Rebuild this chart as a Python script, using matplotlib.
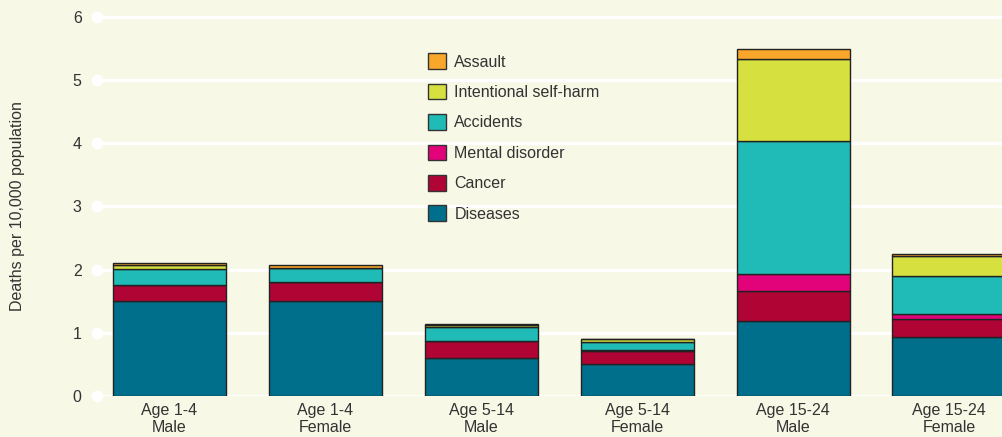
import numpy as np
import matplotlib.pyplot as plt
from matplotlib.patches import Patch

plt.rcParams['font.family'] = ['Liberation Sans', 'DejaVu Sans']

# Deaths per 10,000 population by cause, age group and sex
groups = ['Age 1-4\nMale', 'Age 1-4\nFemale', 'Age 5-14\nMale',
          'Age 5-14\nFemale', 'Age 15-24\nMale', 'Age 15-24\nFemale']
causes = ['Diseases', 'Cancer', 'Mental disorder', 'Accidents',
          'Intentional self-harm', 'Assault']
diseases = [1.51, 1.51, 0.60, 0.50, 1.19, 0.94]
cancer = [0.24, 0.29, 0.27, 0.22, 0.48, 0.28]
mental = [0.01, 0.01, 0.00, 0.01, 0.26, 0.08]
accidents = [0.25, 0.21, 0.23, 0.12, 2.10, 0.60]
self_harm = [0.06, 0.00, 0.03, 0.05, 1.31, 0.32]
assault = [0.04, 0.06, 0.01, 0.01, 0.15, 0.03]

colors = ['#006f8b', '#b00435', '#e2037a', '#20bbb6', '#d6e03e', '#f9a72b']
bg = '#f7f8e5'
txt = '#333333'

series = [diseases, cancer, mental, accidents, self_harm, assault]

fig = plt.figure(figsize=(10.02, 4.37), dpi=100, facecolor=bg)
ax = fig.add_axes([97 / 1002, 41 / 437, 905 / 1002, 391 / 437])
ax.set_facecolor(bg)

x = np.arange(len(groups))
bottom = np.zeros(len(groups))
for vals, col in zip(series, colors):
    ax.bar(x, vals, bottom=bottom, width=0.725, color=col,
           edgecolor='#222222', linewidth=1.0, zorder=3)
    bottom += np.array(vals)

yticks = np.arange(0, 7)
ax.set_xlim(-0.465, 5.34)
ax.set_ylim(0, 391 / 63.17)

# white gridlines with a dot at the left end
for yv in yticks:
    ax.axhline(yv, color='white', linewidth=2.3, zorder=1)
ax.plot(np.full(len(yticks), -0.465), yticks, 'o', color='white',
        markersize=7.5, clip_on=False, zorder=2)

ax.set_yticks(yticks)
ax.set_yticklabels([str(v) for v in yticks], fontsize=11.5, color=txt)
ax.set_xticks(x)
ax.set_xticklabels(groups, fontsize=11.5, color=txt, linespacing=1.2)
ax.tick_params(axis='both', length=0)
ax.tick_params(axis='y', pad=11)
ax.tick_params(axis='x', pad=5)
for s in ax.spines.values():
    s.set_visible(False)

fig.text(18 / 1002, 1 - 206 / 437, 'Deaths per 10,000 population',
         rotation=90, ha='center', va='center', fontsize=11.5, color=txt)

handles = [Patch(facecolor=c, edgecolor=txt, linewidth=1.0)
           for c in colors][::-1]
ax.legend(handles, causes[::-1], loc='upper left',
          bbox_to_anchor=(414 / 1002, 1 - 39 / 437),
          bbox_transform=fig.transFigure, frameon=False,
          fontsize=11.5, handlelength=1.12, handleheight=1.12,
          handletextpad=0.5, labelspacing=0.89, labelcolor=txt)

fig.savefig('out.png', dpi=100, facecolor=bg)
